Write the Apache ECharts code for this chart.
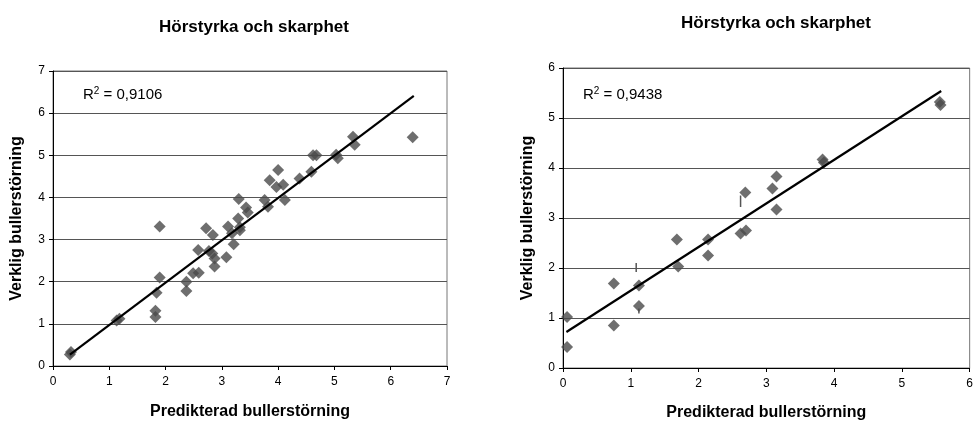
<!DOCTYPE html>
<html><head><meta charset="utf-8">
<script src="https://cdn.jsdelivr.net/npm/echarts@6/dist/echarts.min.js"></script>
<style>html,body{margin:0;padding:0;background:#fff}#c{width:976px;height:432px}</style>
</head><body><div id="c"></div>
<script>
const chartTitle = 'Hörstyrka och skarphet';
const xAxisTitle = 'Predikterad bullerstörning';
const yAxisTitle = 'Verklig bullerstörning';

const leftX = [0.30,0.32,1.13,1.18,1.82,1.82,1.84,1.895,1.895,2.37,2.37,2.49,2.59,2.58,2.72,2.77,2.84,2.83,2.87,2.87,3.08,3.11,3.18,3.21,3.29,3.32,3.32,3.30,3.43,3.46,3.76,3.82,3.85,4.00,3.97,4.09,4.12,4.38,4.59,4.62,4.68,5.03,5.06,5.33,5.36,6.39];
const leftY = [0.27,0.33,1.08,1.12,1.31,1.16,1.74,2.10,3.31,2.00,1.78,2.20,2.21,2.75,3.27,2.73,3.11,2.67,2.55,2.36,2.58,3.31,3.15,2.89,3.50,3.29,3.22,3.96,3.76,3.64,3.94,3.78,4.41,4.65,4.25,4.30,3.94,4.45,4.61,5.00,5.00,5.01,4.93,5.44,5.25,5.43];
const leftTrendX = [0.30, 6.41];
const leftTrendY = [0.27, 6.41];
const leftR2 = '0,9106';

const rightX = [0.06,0.06,0.75,0.75,1.12,1.12,1.68,1.70,2.14,2.14,2.62,2.70,2.69,3.09,3.15,3.15,3.83,3.85,5.56,5.57];
const rightY = [1.02,0.42,1.69,0.85,1.65,1.24,2.57,2.03,2.57,2.25,2.69,2.75,3.51,3.59,3.83,3.17,4.17,4.11,5.32,5.26];
const rightTrendX = [0.05, 5.58];
const rightTrendY = [0.72, 5.54];
const rightR2 = '0,9438';
// small vertical marks seen in the right chart
const rightMarkX = [1.08, 1.12, 2.62];
const rightMarkLow = [1.92, 1.09, 3.22];
const rightMarkHigh = [2.10, 1.19, 3.45];

const leftTicks = {min:0, max:7, interval:1};
const rightTicks = {min:0, max:6, interval:1};

const zip = (a,b) => a.map((v,i)=>[v,b[i]]);
const FONT = 'Liberation Sans, Arial, sans-serif';
const ptColor = '#4a4a4a';

function xAxisCfg(idx, t, gap){
  return {gridIndex: idx, type:'value', min:t.min, max:t.max, interval:t.interval,
    name: xAxisTitle, nameLocation:'middle', nameGap:gap,
    nameTextStyle:{fontFamily:FONT, fontWeight:'bold', fontSize:16, color:'#000'},
    axisLine:{show:true, onZero:false, lineStyle:{color:'#000', width:1}},
    axisTick:{show:true, inside:false, length:4, lineStyle:{color:'#000'}},
    axisLabel:{fontFamily:FONT, fontSize:12, color:'#000', margin:10},
    splitLine:{show:false}};
}
function yAxisCfg(idx, t, gap){
  return {gridIndex: idx, type:'value', min:t.min, max:t.max, interval:t.interval,
    name: yAxisTitle, nameLocation:'middle', nameGap:gap, nameRotate:90,
    nameTextStyle:{fontFamily:FONT, fontWeight:'bold', fontSize:16, color:'#000'},
    axisLine:{show:true, onZero:false, lineStyle:{color:'#000', width:1}},
    axisTick:{show:true, inside:false, length:4, lineStyle:{color:'#000'}},
    axisLabel:{fontFamily:FONT, fontSize:12, color:'#000', margin:8},
    splitLine:{show:true, lineStyle:{color:'#555', width:1}}};
}

const r2Rich = {n:{fontFamily:FONT,fontSize:15,fill:'#000'}, s:{fontFamily:FONT,fontSize:10,fill:'#000',verticalAlign:'top',padding:[0,0,8,0]}};

const chart = echarts.init(document.getElementById('c'), null, {renderer:'canvas'});
chart.setOption({
  animation:false,
  backgroundColor:'#fff',
  title:[
    {text:chartTitle, left:249, top:14, textAlign:'center', textStyle:{fontFamily:FONT, fontWeight:'bold', fontSize:17, color:'#000'}},
    {text:chartTitle, left:771, top:10, textAlign:'center', textStyle:{fontFamily:FONT, fontWeight:'bold', fontSize:17, color:'#000'}}
  ],
  grid:[
    {left:53, top:71, width:394, height:295, show:true, borderColor:'#777', borderWidth:1, containLabel:false},
    {left:563, top:68, width:411, height:300, show:true, borderColor:'#777', borderWidth:1, containLabel:false}
  ],
  xAxis:[xAxisCfg(0,leftTicks,38), xAxisCfg(1,rightTicks,37)],
  yAxis:[yAxisCfg(0,leftTicks,28), yAxisCfg(1,rightTicks,27)],
  graphic:[
    {type:'text', left:83, top:86, style:{text:'{n|R}{s|2}{n| = '+leftR2+'}', rich:r2Rich}},
    {type:'text', left:583, top:86, style:{text:'{n|R}{s|2}{n| = '+rightR2+'}', rich:r2Rich}}
  ],
  series:[
    {type:'scatter', xAxisIndex:0, yAxisIndex:0, symbol:'diamond', symbolSize:12, itemStyle:{color:ptColor}, data:zip(leftX,leftY), z:3},
    {type:'line', xAxisIndex:0, yAxisIndex:0, symbol:'none', lineStyle:{color:'#000', width:2.2}, data:zip(leftTrendX,leftTrendY), z:4},
    {type:'custom', xAxisIndex:1, yAxisIndex:1, z:2,
      renderItem:(params, api)=>{
        const p1 = api.coord([api.value(0), api.value(1)]);
        const p2 = api.coord([api.value(0), api.value(2)]);
        return {type:'line', shape:{x1:p1[0], y1:p1[1], x2:p2[0], y2:p2[1]}, style:{stroke:'#555', lineWidth:1.5}};
      },
      data: rightMarkX.map((x,i)=>[x, rightMarkLow[i], rightMarkHigh[i]])},
    {type:'scatter', xAxisIndex:1, yAxisIndex:1, symbol:'diamond', symbolSize:12, itemStyle:{color:ptColor}, data:zip(rightX,rightY), z:3},
    {type:'line', xAxisIndex:1, yAxisIndex:1, symbol:'none', lineStyle:{color:'#000', width:2.2}, data:zip(rightTrendX,rightTrendY), z:4}
  ]
});
</script></body></html>
